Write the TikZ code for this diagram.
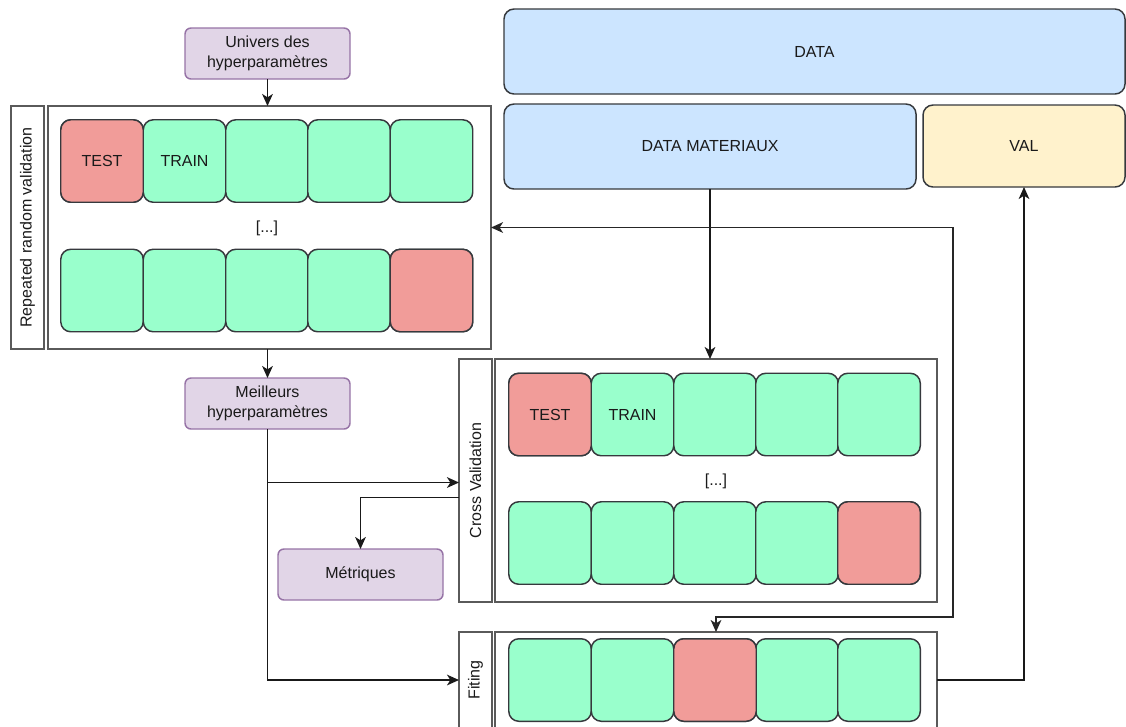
\documentclass[tikz,border=0pt]{standalone}
\usepackage{fontspec}
\setmainfont{Liberation Sans}
\usetikzlibrary{calc,arrows.meta}

\definecolor{txt}{HTML}{1A1A1A}
\definecolor{purplefill}{HTML}{E1D5E7}
\definecolor{purpleline}{HTML}{9673A6}
\definecolor{bluefill}{HTML}{CCE5FF}
\definecolor{yellowfill}{HTML}{FFF2CC}
\definecolor{darkline}{HTML}{36393D}
\definecolor{greenfill}{HTML}{99FFCC}
\definecolor{redfill}{HTML}{F19C99}
\definecolor{frame}{HTML}{5A5A5A}

\begin{document}
\begin{tikzpicture}[x=0.75pt, y=-0.75pt,
  font=\fontsize{12}{15}\selectfont,
  sz/.style 2 args={minimum width=#1*0.75pt, minimum height=#2*0.75pt},
  box/.style={inner sep=0pt, outer sep=0pt, line width=1.1pt, text=txt, align=center},
  param/.style={box, draw=purpleline, fill=purplefill, rounded corners=4.5pt, sz={165}{51}},
  databox/.style={box, draw=darkline, fill=bluefill, rounded corners=7.5pt},
  valbox/.style={box, draw=darkline, fill=yellowfill, rounded corners=7.5pt},
  container/.style={box, draw=frame},
  fold/.style={box, draw=darkline, rounded corners=7.5pt, fill=greenfill, sz={82.5}{82.5}},
  testfold/.style={fold, fill=redfill},
  arr/.style={line width=1.1pt, draw=black!90, -{Stealth[length=9pt,width=8pt,inset=2.5pt]}},
  link/.style={line width=1.1pt, draw=black!85}
]
\useasboundingbox (0,0) rectangle (1126,726);
\clip (0,0) rectangle (1126,726);

% data blocks
\node[databox, sz={621}{85}] (data) at (814.5,51.5) {DATA};
\node[databox, sz={412}{85}] (dm) at (710,146.5) {DATA MATERIAUX};
\node[valbox, sz={202}{82}] (val) at (1024,146) {VAL};

% hyperparameter boxes
\node[param] (univ) at (267.5,53.5) {Univers des\\hyperparamètres};
\node[param] (best) at (267.5,403.5) {Meilleurs\\hyperparamètres};
\node[param] (metrics) at (360.5,574.5) {Métriques};

% repeated random validation
\node[container, sz={33}{243}] (rrvlab) at (27.5,227.5) {\rotatebox{90}{Repeated random validation}};
\node[container, sz={443}{243}] (rrv) at (269.5,227.5) {};
\foreach \i/\x in {1/102, 2/184.5, 3/267, 4/349, 5/431.5}{
  \node[fold] (ra\i) at (\x,161) {};
  \node[fold] (rb\i) at (\x,290.5) {};
}
\node[testfold] (ra1) at (102,161) {TEST};
\node[text=txt] at (ra2) {TRAIN};
\node[testfold] (rb5) at (431.5,290.5) {};
\node[text=txt] (dotsa) at (267,228) {[...]};

% cross validation
\node[container, sz={33}{243}] (cvlab) at (475.5,480.5) {\rotatebox{90}{Cross Validation}};
\node[container, sz={442}{243}] (cv) at (716,480.5) {};
\foreach \i/\x in {1/550, 2/632.5, 3/715, 4/797, 5/879}{
  \node[fold] (ca\i) at (\x,414.5) {};
  \node[fold] (cb\i) at (\x,543) {};
}
\node[testfold] (ca1) at (550,414.5) {TEST};
\node[text=txt] at (ca2) {TRAIN};
\node[testfold] (cb5) at (879,543) {};
\node[text=txt] (dotsb) at (716,481) {[...]};

% fitting
\node[container, sz={33}{96}] (fitlab) at (475.5,680) {\rotatebox{90}{Fiting}};
\node[container, sz={442}{96}] (fitbox) at (716,680) {};
\foreach \i/\x in {1/550, 2/632.5, 3/715, 4/797, 5/879}{
  \node[fold] (fa\i) at (\x,680) {};
}
\node[testfold] (fa3) at (715,680) {};

% connectors
\draw[arr] (univ.south) -- (univ.south |- rrv.north);
\draw[arr] (best.north |- rrv.south) -- (best.north);
\draw[arr] (best.south) |- (fitlab.west);
\draw[arr] ($(best.south |- cvlab.west)+(0,2)$) -- ($(cvlab.west)+(0,2)$);
\draw[arr] ($(cvlab.west)+(0,17)$) -| (metrics.north);
\draw[arr] (dm.south) -- (dm.south |- cv.north);
\coordinate (loopcorner) at (953,617);
\draw[link, {Stealth[length=9pt,width=8pt,inset=2.5pt]}-{Stealth[length=9pt,width=8pt,inset=2.5pt]}]
  (rrv.east) -| (loopcorner) -| (fitbox.north);
\draw[arr] (fitbox.east) -| (val.south);
\end{tikzpicture}
\end{document}
